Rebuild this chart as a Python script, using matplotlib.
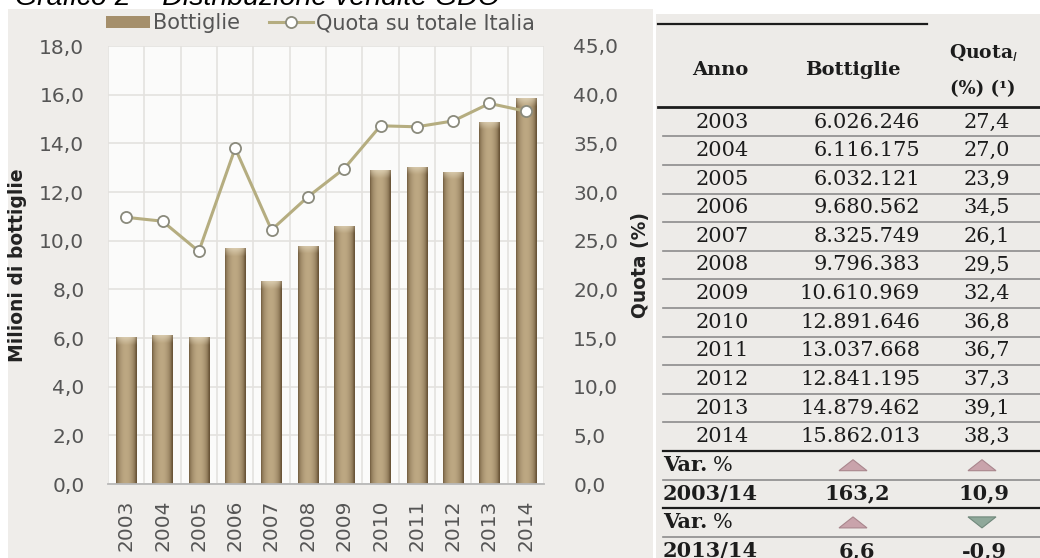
import numpy as np
import matplotlib.pyplot as plt
import matplotlib.colors as mcolors
from matplotlib.patches import Rectangle, Polygon
from matplotlib.ticker import FuncFormatter, MultipleLocator

# Vendite GDO: bottiglie e quota su totale Italia
years = [2003, 2004, 2005, 2006, 2007, 2008, 2009, 2010, 2011, 2012, 2013, 2014]
bottiglie = [6026246, 6116175, 6032121, 9680562, 8325749, 9796383,
             10610969, 12891646, 13037668, 12841195, 14879462, 15862013]
quota = [27.4, 27.0, 23.9, 34.5, 26.1, 29.5, 32.4, 36.8, 36.7, 37.3, 39.1, 38.3]

var_periods = ['2003/14', '2013/14']
var_bottiglie = [163.2, 6.6]
var_quota = [10.9, -0.9]

W, H = 1040, 558
grey_txt = '#555555'
panel = '#efedea'


def it_dec(v, d=1):
    return f'{v:.{d}f}'.replace('.', ',')


def it_int(v):
    return f'{v:,}'.replace(',', '.')


def cylinder(ax, bar):
    # horizontal shading like a cylinder plus a lighter cap on top
    x0, w, h = bar.get_x(), bar.get_width(), bar.get_height()
    t = np.linspace(0, 1, 80)
    prof = np.clip(np.sin(np.pi * np.clip(t * 1.05, 0, 1)), 0, 1) ** 0.55
    edge = np.array(mcolors.to_rgb('#6a5538'))
    mid = np.array(mcolors.to_rgb('#bda883'))
    row = edge + (mid - edge) * prof[:, None]
    n = 300
    img = np.repeat(row[None, :, :], n, axis=0)
    ys = np.linspace(0, h, n)  # from top (origin upper)
    cap = 0.32
    wgt = np.clip(1 - ys / cap, 0, 1)[:, None] * (0.35 + 0.5 * prof[None, :])
    capc = np.array(mcolors.to_rgb('#ddd0b4'))
    img = img * (1 - wgt[:, :, None]) + capc * wgt[:, :, None]
    im = ax.imshow(img, extent=[x0, x0 + w, 0, h], aspect='auto',
                   interpolation='bilinear', zorder=2)
    im.set_clip_path(bar)


fig = plt.figure(figsize=(W / 100, H / 100), dpi=100)
fig.patch.set_facecolor('white')

# page layer in pixel coordinates (y down)
page = fig.add_axes([0, 0, 1, 1])
page.set_xlim(0, W)
page.set_ylim(H, 0)
page.axis('off')
page.add_patch(Rectangle((8, 9), 645, H, color=panel, lw=0))
page.add_patch(Rectangle((656, 14), W - 656, H, color='#edebe8', lw=0))
page.text(15, 5, 'Grafico 2 – Distribuzione vendite GDO', family='Liberation Sans',
          fontstyle='italic', fontsize=20.5, color='black', va='baseline', clip_on=False)

# chart
ax = fig.add_axes([108 / W, 1 - 484 / H, 436 / W, (484 - 46) / H])
ax.set_facecolor('#fbfbfa')
x = np.arange(len(years))
values_m = [b / 1e6 for b in bottiglie]
bars = ax.bar(x, values_m, width=0.56, color='#a58f6b', edgecolor='none', zorder=2,
              label='Bottiglie')
for b in bars:
    cylinder(ax, b)

ax.set_xlim(-0.5, len(years) - 0.5)
ax.set_ylim(0, 18)
ax.yaxis.set_major_locator(MultipleLocator(2))
ax.yaxis.set_major_formatter(FuncFormatter(lambda v, p: it_dec(v)))
ax.set_xticks(x)
ax.set_xticklabels([str(y) for y in years], rotation=90)
ax.set_xticks(np.arange(-0.5, len(years), 1), minor=True)
ax.set_axisbelow(True)
ax.grid(True, which='major', axis='y', color='#e4e2df', lw=1.2)
ax.grid(True, which='minor', axis='x', color='#e4e2df', lw=1.2)
ax.tick_params(which='both', length=0)
ax.tick_params(axis='y', labelsize=14.5, labelcolor=grey_txt, pad=17)
ax.tick_params(axis='x', labelsize=14.5, labelcolor=grey_txt, pad=11)
for s in ['top', 'left', 'right']:
    ax.spines[s].set_visible(False)
ax.spines['bottom'].set_color('#b8b8b8')
ax.spines['bottom'].set_linewidth(1.3)
ax.set_ylabel('Milioni di bottiglie', fontsize=13.5, fontweight='bold', color='#222222')
ax.yaxis.set_label_coords((27 - 108) / 436, 0.5)

ax2 = ax.twinx()
line, = ax2.plot(x, quota, color='#b5ad80', lw=2.2, marker='o', markersize=8,
                 markerfacecolor='white', markeredgecolor='#8a8a7c', markeredgewidth=1.3,
                 zorder=3, label='Quota su totale Italia')
ax2.set_ylim(0, 45)
ax2.yaxis.set_major_locator(MultipleLocator(5))
ax2.yaxis.set_major_formatter(FuncFormatter(lambda v, p: it_dec(v)))
ax2.tick_params(length=0, labelsize=14.5, labelcolor=grey_txt, pad=21)
for s in ax2.spines.values():
    s.set_visible(False)
ax2.set_ylabel('Quota (%)', fontsize=13.5, fontweight='bold', color='#222222')
ax2.yaxis.set_label_coords((631 - 108) / 436, 0.5)

ax2.legend(handles=[bars, line], loc='lower left', ncol=2, frameon=False,
           bbox_to_anchor=(106 / W, 1 - 33 / H), bbox_transform=fig.transFigure,
           fontsize=15, labelcolor=grey_txt, handlelength=2.1, handleheight=0.5,
           handletextpad=0.15, columnspacing=1.4, borderpad=0, borderaxespad=0)

# table
serif = 'DejaVu Serif'
ink = '#1c1c1c'
row0, step = 122, 28.6
col_anno, col_bott, col_quota = 722, 920, 1010
col_bott_c, col_quota_c = 857, 984

page.plot([658, 927], [24, 24], color=ink, lw=1.6)
page.text(720, 70, 'Anno', family=serif, fontweight='bold', fontsize=14, color=ink,
          ha='center', va='center')
page.text(853, 70, 'Bottiglie', family=serif, fontweight='bold', fontsize=14, color=ink,
          ha='center', va='center')
page.text(983, 53, r'Quota$_{I}$', family=serif, fontweight='bold', fontsize=13.5, color=ink,
          ha='center', va='center')
page.text(983, 89, '(%) (¹)', family=serif, fontweight='bold', fontsize=13, color=ink,
          ha='center', va='center')
page.plot([658, 1040], [107, 107], color=ink, lw=2)

for k, (yr, b, q) in enumerate(zip(years, bottiglie, quota)):
    yy = row0 + k * step
    page.text(col_anno, yy, str(yr), family=serif, fontsize=15, color=ink,
              ha='center', va='center')
    page.text(col_bott, yy, it_int(b), family=serif, fontsize=15, color=ink,
              ha='right', va='center')
    page.text(col_quota, yy, it_dec(q), family=serif, fontsize=15, color=ink,
              ha='right', va='center')
    sep = yy + step / 2
    if k < len(years) - 1:
        page.plot([663, 1040], [sep, sep], color='#8c8c8c', lw=1.2)
    else:
        page.plot([663, 1040], [sep, sep], color=ink, lw=1.6)


def arrow(cx, cy, up):
    c = '#c9a3ab' if up else '#8fa89a'
    e = '#a9868d' if up else '#70887b'
    hw, hh = 14, 5.5
    pts = [(cx - hw, cy + hh), (cx + hw, cy + hh), (cx, cy - hh)] if up else \
          [(cx - hw, cy - hh), (cx + hw, cy - hh), (cx, cy + hh)]
    page.add_patch(Polygon(pts, closed=True, facecolor=c, edgecolor=e, lw=0.8))


yy = row0 + len(years) * step
for i, (per, vb, vq) in enumerate(zip(var_periods, var_bottiglie, var_quota)):
    page.text(663, yy, 'Var.', family=serif, fontweight='bold', fontsize=15, color=ink,
              ha='left', va='center')
    page.text(713, yy, '%', family=serif, fontsize=15, color=ink, ha='left', va='center')
    arrow(col_bott_c - 4, yy, vb >= 0)
    arrow(col_quota_c - 2, yy, vq >= 0)
    page.plot([663, 1040], [yy + step / 2] * 2, color='#8c8c8c', lw=1.2)
    yy += step
    page.text(663, yy, per, family=serif, fontweight='bold', fontsize=15, color=ink,
              ha='left', va='center')
    page.text(col_bott_c, yy, it_dec(vb), family=serif, fontweight='bold', fontsize=15,
              color=ink, ha='center', va='center')
    page.text(col_quota_c, yy, it_dec(vq), family=serif, fontweight='bold', fontsize=15,
              color=ink, ha='center', va='center')
    if i == 0:
        page.plot([663, 1040], [yy + step / 2] * 2, color=ink, lw=1.6)
    yy += step

fig.savefig('out.png', dpi=100, facecolor=fig.get_facecolor())
